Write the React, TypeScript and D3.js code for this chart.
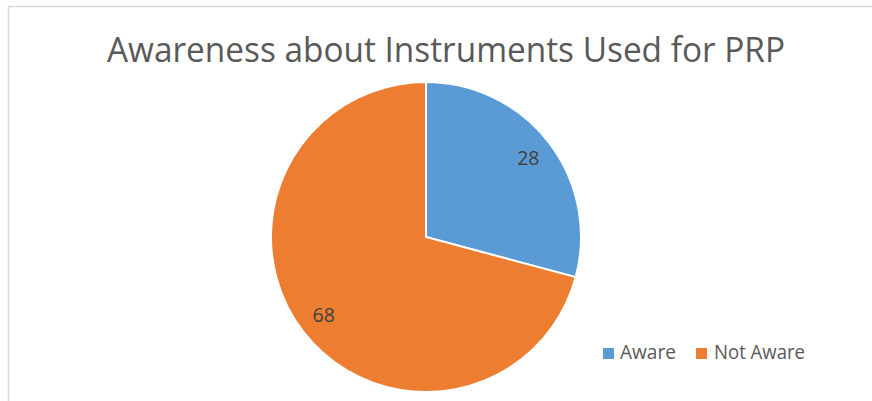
import React from "react";
import * as d3 from "d3";

const categories = ["Aware", "Not Aware"];
const values = [28, 68];
const colors = ["#5B9BD5", "#ED7D31"];
const title = "Awareness about Instruments Used for PRP";

const W = 872;
const H = 401;
const cx = 426;
const cy = 237;
const R = 155;
const labelR = 129;
const FONT = "'Open Sans', 'Noto Sans', sans-serif";

export default function App() {
  const pie = d3.pie<number>().sort(null).value((d) => d);
  const arcs = pie(values);
  const arc = d3.arc<d3.PieArcDatum<number>>().innerRadius(0).outerRadius(R);
  const labelArc = d3.arc<d3.PieArcDatum<number>>().innerRadius(labelR).outerRadius(labelR);

  const legendItems = [
    { sx: 603, tx: 620, tw: 56 },
    { sx: 696, tx: 714, tw: 91 },
  ];

  return (
    <svg
      width={W}
      height={H}
      style={{ position: "absolute", left: 0, top: 0, background: "#fff" }}
    >
      <rect x={8.5} y={6.5} width={W + 20} height={H + 20} fill="#fff" stroke="#d9d9d9" strokeWidth={1.5} />
      <text
        x={446}
        y={62}
        textAnchor="middle"
        fontFamily={FONT}
        fontSize={35}
        fill="#595959"
        textLength={678}
        lengthAdjust="spacingAndGlyphs"
      >
        {title}
      </text>
      <g transform={`translate(${cx},${cy})`}>
        {arcs.map((a, i) => (
          <path key={i} d={arc(a) || ""} fill={colors[i]} stroke="#fff" strokeWidth={2} />
        ))}
        {arcs.map((a, i) => {
          const [x, y] = labelArc.centroid(a);
          return (
            <text
              key={"l" + i}
              x={x}
              y={y}
              dy="0.35em"
              textAnchor="middle"
              fontFamily={FONT}
              fontSize={19.5}
              fill="#404040"
            >
              {values[i]}
            </text>
          );
        })}
      </g>
      {categories.map((c, i) => (
        <g key={c}>
          <rect x={legendItems[i].sx} y={348} width={11} height={11} fill={colors[i]} />
          <text
            x={legendItems[i].tx}
            y={359}
            fontFamily={FONT}
            fontSize={19.5}
            fill="#595959"
            textLength={legendItems[i].tw}
            lengthAdjust="spacingAndGlyphs"
          >
            {c}
          </text>
        </g>
      ))}
    </svg>
  );
}
